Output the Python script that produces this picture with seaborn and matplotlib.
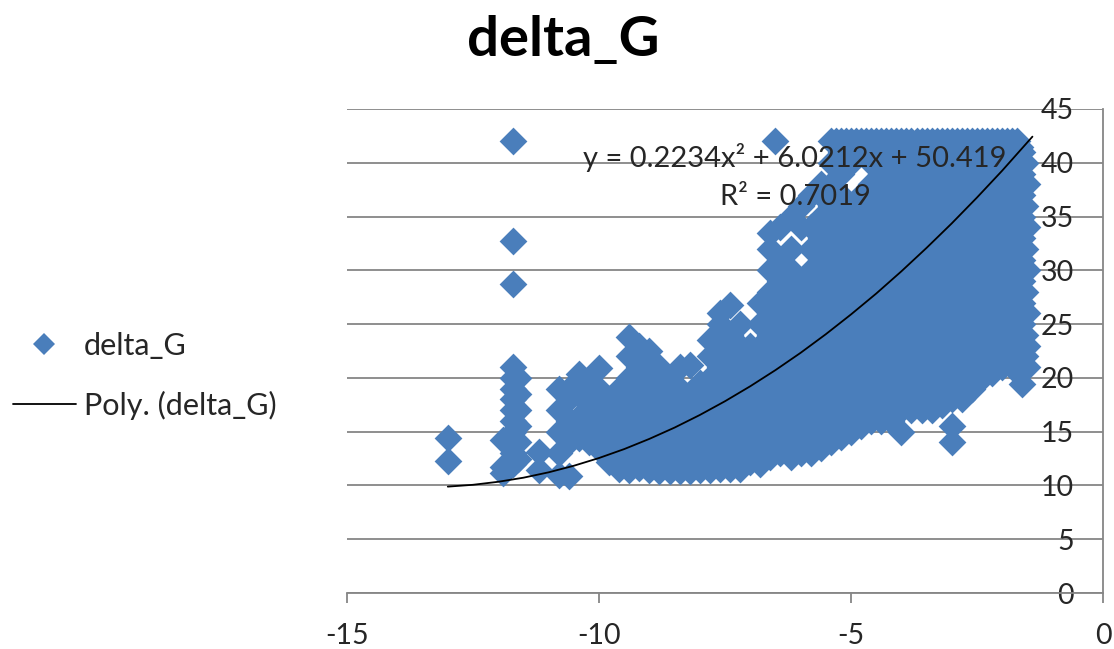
import matplotlib
matplotlib.use("Agg")
import matplotlib.pyplot as plt
from matplotlib.lines import Line2D
import pandas as pd
import seaborn as sns

TITLE = "delta_G"
SERIES = "delta_G"
TREND = "Poly. (delta_G)"
EQUATION = "y = 0.2234x² + 6.0212x + 50.419"
R2 = "R² = 0.7019"
X_TICKS = [-15, -10, -5, 0]
Y_TICKS = [0, 5, 10, 15, 20, 25, 30, 35, 40, 45]

col_x = [-13.0, -11.9, -11.7, -11.6, -11.2, -10.8, -10.6, -10.4, -10.2, -10.0, -9.8, -9.6, -9.4, -9.2,
         -9.0, -8.8, -8.6, -8.4, -8.2, -8.0, -7.8, -7.6, -7.4, -7.2, -7.0, -6.8, -6.6, -6.5, -6.4,
         -6.2, -6.0, -5.8, -5.6, -5.4, -5.2, -5.0, -4.8, -4.6, -4.4, -4.2, -4.0, -3.8, -3.6, -3.4,
         -3.2, -3.0, -2.8, -2.6, -2.4, -2.2, -2.0, -1.8, -1.6]
col_g = [
    [14.4, 12.3],
    [14.2, 11.7, 11.2],
    [42, 32.7, 28.7, 21, 20, 19, 18, 17, 16, 15, 14, 13, 12],
    [20, 18.5, 17, 15.5, 14, 12.5],
    [13.1, 11.4],
    [19, 17, 15, 13, 11],
    [19, 18, 16, 14, 10.9],
    [20.4, 18.4, 16.4, 14.4],
    [19.6, 17.6, 15.6, 14],
    [20.9, 19, 17, 15, 13.4],
    [18, 16, 14, 12.2],
    [19, 17, 15, 13, 11.5],
    [23.8, 22, 20, 18, 16, 14, 12, 11.4],
    [23, 21, 19, 17, 15, 13, 11.6],
    [22.5, 20, 18, 16, 14, 12, 11.4],
    [21, 19, 17, 15, 13, 11.3],
    [20, 18, 16, 14, 12, 11.3],
    [21, 19, 17, 15, 13, 11.3],
    [21.2, 18, 16, 14, 12, 11.3],
    [19.5, 17, 15, 13, 11.4],
    [23.5, 22, 20, 18, 16, 14, 12, 11.4],
    [26, 25, 23, 21, 19, 17, 15, 13, 11.5],
    [26.8, 24, 22, 20, 18, 16, 14, 12, 11.5],
    [25, 23, 21, 19, 17, 15, 13, 11.5],
    [23, 22, 20, 18, 16, 14, 12.2],
    [27, 25, 23, 21, 19, 17, 15, 13, 12],
    [33.5, 32, 30, 28, 26, 24, 22, 20, 18, 16, 14, 12.6],
    [42],
    [34, 31, 29, 27, 25, 23, 21, 19, 17, 15, 13],
    [35, 32, 30, 28, 26, 24, 22, 20, 18, 16, 14, 12.6],
    [36, 34, 29, 27, 25, 23, 21, 19, 17, 15, 13],
    [37, 34, 32, 30, 28, 26, 24, 22, 20, 18, 16, 14, 13],
    [38, 37, 35, 33, 31, 29, 27, 25, 23, 21, 19, 17, 15, 13.5],
    [42, 40, 38, 36, 34, 32, 30, 28, 26, 24, 22, 20, 18, 16, 14],
    [42, 41, 39, 37, 35, 33, 31, 29, 27, 25, 23, 21, 19, 17, 15, 14.5],
    [42, 40, 36, 34, 32, 30, 28, 26, 24, 22, 20, 18, 16, 15],
    [42, 41, 37, 35, 33, 31, 29, 27, 25, 23, 21, 19, 17, 15.5],
    [42, 40, 38, 36, 34, 32, 30, 28, 26, 24, 22, 20, 18, 16],
    [42, 41, 39, 37, 35, 33, 31, 29, 27, 25, 23, 21, 19, 17, 16],
    [42, 40, 38, 36, 34, 32, 30, 28, 26, 24, 22, 20, 18, 16],
    [42, 41, 39, 37, 35, 33, 31, 29, 27, 25, 23, 21, 19, 17, 15],
    [42, 40, 38, 36, 34, 32, 30, 28, 26, 24, 22, 20, 18, 17],
    [42, 41, 39, 37, 35, 33, 31, 29, 27, 25, 23, 21, 19, 17],
    [42, 40, 38, 36, 34, 32, 30, 28, 26, 24, 22, 20, 18, 17],
    [42, 41, 39, 37, 35, 33, 31, 29, 27, 25, 23, 21, 19, 17.5],
    [42, 40, 38, 36, 34, 32, 30, 28, 26, 24, 22, 20, 18, 15.5, 14],
    [42, 41, 39, 37, 35, 33, 31, 29, 27, 25, 23, 21, 19, 18],
    [42, 40, 38, 36, 34, 32, 30, 28, 26, 24, 22, 20, 19],
    [42, 41, 39, 37, 35, 33, 31, 29, 27, 25, 23, 21, 20],
    [42, 40, 38, 36, 34, 32, 30, 28, 26, 24, 22, 20.5],
    [42, 41, 39, 37, 35, 33, 31, 29, 27, 25, 23, 21],
    [42, 40, 38, 36, 34, 32, 30, 28, 26, 24, 22, 21],
    [41, 39, 37, 35, 33, 31, 29, 27, 25, 23, 21, 19.4],
]

ridge_x = [-5.3, -5.1, -4.9, -4.7, -4.5, -4.3, -4.1, -3.9, -3.7, -3.5, -3.3, -3.1, -2.9, -2.7, -2.5,
           -2.3, -2.1, -1.9, -1.7, -1.65]
ridge_g = [42, 42, 42, 42, 42, 42, 42, 42, 42, 42, 42, 42, 42, 42, 42, 42, 42, 42, 42, 41.5]

edge_x = [-1.55, -1.5, -1.55, -1.5, -1.55, -1.5, -1.55, -1.5, -1.55, -1.5, -1.55, -1.5]
edge_g = [40, 38, 36, 34, 32, 30, 28, 26, 24, 23, 22, 21]

trend_x = [-13, -12.5, -12, -11.5, -11, -10.5, -10, -9.5, -9, -8.5, -8, -7.5, -7, -6.5, -6, -5.5,
           -5, -4.5, -4, -3.5, -3, -2.5, -2, -1.4]
trend_y = [9.89, 10.06, 10.34, 10.72, 11.22, 11.83, 12.55, 13.38, 14.33, 15.38, 16.55, 17.83,
           19.22, 20.72, 22.33, 24.06, 25.90, 27.84, 29.91, 32.09, 34.37, 36.77, 39.27, 42.43]

BLUE = "#4A7EBB"
GRID = "#868686"
TEXT = "#262626"

sns.set_theme(style="white")
plt.rcParams["font.family"] = ["Lato", "DejaVu Sans"]
plt.rcParams["axes.unicode_minus"] = False

W, H = 1114, 649
fig = plt.figure(figsize=(W / 100, H / 100), dpi=100)
L, R, T, B = 347, 1103, 109, 593
ax = fig.add_axes([L / W, 1 - B / H, (R - L) / W, (B - T) / H])

rows = [(x, g) for x, ys in zip(col_x, col_g) for g in ys]
rows += list(zip(ridge_x, ridge_g)) + list(zip(edge_x, edge_g))
points = pd.DataFrame(rows, columns=["x", "g"])
sns.scatterplot(data=points, x="x", y="g", marker="D", s=200, color=BLUE,
                linewidth=0, ax=ax, clip_on=False, zorder=3, legend=False)
sns.lineplot(x=trend_x, y=trend_y, color="black", linewidth=1.3, ax=ax,
             zorder=4, legend=False, estimator=None, sort=False)

ax.set_xlim(-15, 0)
ax.set_ylim(0, 45)
ax.set_xlabel("")
ax.set_ylabel("")
ax.set_xticks(X_TICKS)
ax.set_yticks(Y_TICKS)
ax.set_axisbelow(True)
ax.grid(axis="y", color=GRID, linewidth=1.3)
ax.grid(axis="x", visible=False)
for side in ["left", "top"]:
    ax.spines[side].set_visible(False)
for side in ["right", "bottom"]:
    ax.spines[side].set_visible(True)
    ax.spines[side].set_color(GRID)
    ax.spines[side].set_linewidth(1.3)

ax.yaxis.tick_right()
ax.tick_params(axis="y", length=0, pad=-21, labelsize=20.5, labelcolor=TEXT, zorder=6)
for lab in ax.get_yticklabels():
    lab.set_ha("right")
    lab.set_zorder(6)
ax.tick_params(axis="x", length=7.2, width=1.3, color=GRID, bottom=True, pad=14.5,
               labelsize=20.5, labelcolor=TEXT)

fig.text(563 / W, 1 - 40 / H, TITLE, ha="center", va="center", fontsize=40.5,
         fontweight="bold", color="black")
ax.text(795 / W, 1 - 157 / H, EQUATION, transform=fig.transFigure, ha="center", va="center",
        fontsize=21, color=TEXT, zorder=7)
ax.text(795 / W, 1 - 197 / H, R2, transform=fig.transFigure, ha="center", va="center",
        fontsize=21, color=TEXT, zorder=7)

handles = [
    Line2D([], [], linestyle="none", marker="D", markersize=11.5, color=BLUE, markeredgewidth=0),
    Line2D([], [], color="black", linewidth=1.3),
]
fig.legend(handles, [SERIES, TREND], loc="center left", bbox_to_anchor=(13 / W, 1 - 376 / H),
           frameon=False, fontsize=22, labelcolor=TEXT, handlelength=2.05, handletextpad=0.27,
           labelspacing=1.0, borderpad=0, borderaxespad=0)

fig.savefig("out.png", dpi=100)
